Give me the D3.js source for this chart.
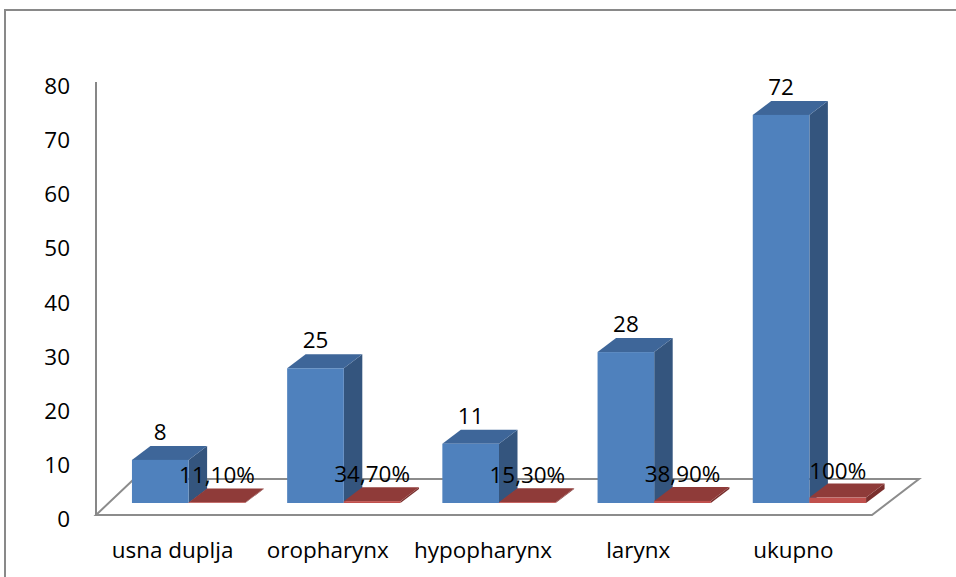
<!DOCTYPE html>
<html>
<head>
<meta charset="utf-8">
<script src="https://cdn.jsdelivr.net/npm/d3@7"></script>
<style>
  html, body { margin: 0; padding: 0; background: #fff; }
  svg { display: block; }
  text { font-family: "Open Sans", "Noto Sans", sans-serif; fill: #000; }
</style>
</head>
<body>
<svg id="chart" width="956" height="577"></svg>
<script>
// Tumour sites, patient counts and each site's share of the total
const categories = ["usna duplja", "oropharynx", "hypopharynx", "larynx", "ukupno"];
const counts = [8, 25, 11, 28, 72];
const shares = [0.111, 0.347, 0.153, 0.389, 1.0];
const shareLabels = ["11,10%", "34,70%", "15,30%", "38,90%", "100%"];
const yTicks = [0, 10, 20, 30, 40, 50, 60, 70, 80];

const svg = d3.select("#chart");
const FONT = 21, SX = 1.07;   // label size and horizontal stretch

// outer frame
svg.append("rect")
  .attr("x", 5).attr("y", 10).attr("width", 1000).attr("height", 1000)
  .attr("fill", "none").attr("stroke", "#898989").attr("stroke-width", 2);

const x = d3.scaleBand().domain(categories).range([111, 887])
  .paddingInner(0.27).paddingOuter(0.135);
const xs = d3.scaleBand().domain(["count", "share"]).range([0, x.bandwidth()]);
const yBar = d3.scaleLinear().domain([0, 80]).range([503, 503 - 80 * 5.39]);
const yAxis = d3.scaleLinear().domain([0, 80]).range([515, 82]);

// depth of each column in the oblique projection
const DX = 18.5, DY = 14;

const [r0, r1] = x.range();
const frontL = r0 - 15, frontR = r1 - 15, backL = r0 + 23, backR = r1 + 32;
const yBack = yAxis(0) - 36;

// floor
svg.append("path")
  .attr("d", `M${frontL},${yAxis(0)} L${frontR},${yAxis(0)} L${backR},${yBack} L${backL},${yBack} Z`)
  .attr("fill", "none").attr("stroke", "#8c8c8c").attr("stroke-width", 2)
  .attr("stroke-linejoin", "miter");

// value axis line
svg.append("line")
  .attr("x1", frontL).attr("x2", frontL)
  .attr("y1", yAxis(0)).attr("y2", yAxis(80))
  .attr("stroke", "#878787").attr("stroke-width", 2);

function stretchedText(g, tx, ty, str, anchor) {
  return g.append("text")
    .attr("transform", `translate(${tx},${ty}) scale(${SX},1)`)
    .attr("text-anchor", anchor)
    .attr("font-size", FONT)
    .text(str);
}

// tick labels
const tickG = svg.append("g");
yTicks.forEach(t => stretchedText(tickG, frontL - 26, yAxis(t) + 12, String(t), "end"));

// 3D column: front, top and side faces
function column(g, x0, w, v, colors) {
  const base = yBar(0), top = yBar(v);
  g.append("path")
    .attr("d", `M${x0 + w},${top} L${x0 + w + DX},${top - DY} L${x0 + w + DX},${base - DY} L${x0 + w},${base} Z`)
    .attr("fill", colors.side);
  g.append("path")
    .attr("d", `M${x0},${top} L${x0 + w},${top} L${x0 + w + DX},${top - DY} L${x0 + DX},${top - DY} Z`)
    .attr("fill", colors.top);
  g.append("rect")
    .attr("x", x0).attr("y", top).attr("width", w).attr("height", base - top)
    .attr("fill", colors.front);
  return top - DY;
}

const blue = { front: "#4f81bd", top: "#3e6699", side: "#34557e" };
const red = { front: "#c0504d", top: "#8f3b39", side: "#7a2f2d" };

const barsG = svg.append("g");
const labelG = svg.append("g");
categories.forEach((c, i) => {
  const bx = x(c) + xs("count"), rx = x(c) + xs("share"), w = xs.bandwidth();
  const bTop = column(barsG, bx, w, counts[i], blue);
  const rTop = column(barsG, rx, w, shares[i], red);
  stretchedText(labelG, bx + w / 2, bTop - 6, String(counts[i]), "middle");
  stretchedText(labelG, rx + w / 2, rTop - 5, shareLabels[i], "middle");
  stretchedText(labelG, x(c) + x.bandwidth() / 2 - 16, 558, c, "middle");
});
</script>
</body>
</html>
